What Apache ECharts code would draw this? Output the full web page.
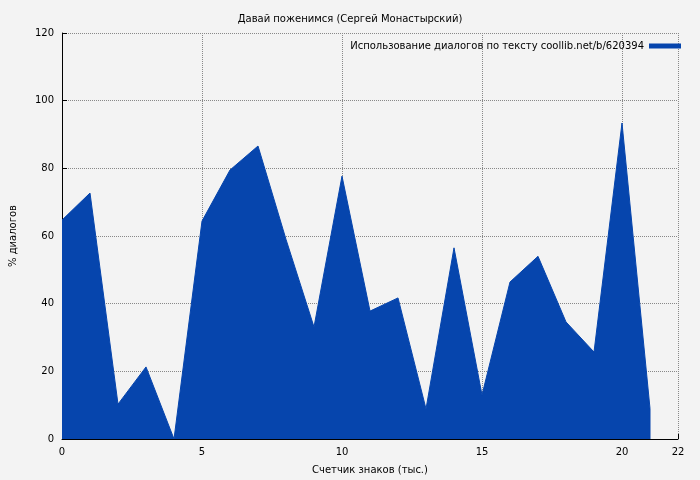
<!DOCTYPE html>
<html>
<head>
<meta charset="utf-8">
<script src="https://cdn.jsdelivr.net/npm/echarts@6/dist/echarts.min.js"></script>
<style>html,body{margin:0;padding:0;background:#f3f3f3;}#chart{width:700px;height:480px;}</style>
</head>
<body>
<div id="chart"></div>
<script>
var xs = [0,1,2,3,4,5,6,7,8,9,10,11,12,13,14,15,16,17,18,19,20,21];
var vals = [64.7,72.7,10.3,21.3,0,64.4,79.5,86.6,59,33.1,77.7,37.8,41.7,8.9,56.5,13,46.4,54,34.6,25.7,93.4,9];
var seriesName = 'Использование диалогов по тексту coollib.net/b/620394';

var data = xs.map(function(x, i){ return [x, vals[i]]; });
data.push([21, 0]);

var myChart = echarts.init(document.getElementById('chart'));
var font = 'DejaVu Sans';
var option = {
    backgroundColor: '#f3f3f3',
    animation: false,
    title: {
        text: 'Давай поженимся (Сергей Монастырский)',
        left: 'center', top: 9,
        textStyle: {fontFamily: font, fontSize: 10, fontWeight: 'normal', color: '#000'}
    },
    legend: {
        right: 14, top: 36,
        data: [seriesName],
        itemWidth: 32, itemHeight: 5,
        icon: 'rect',
        align: 'right',
        textStyle: {fontFamily: font, fontSize: 10, color: '#000'}
    },
    grid: {left: 60, right: 22, top: 33, bottom: 41},
    xAxis: {
        type: 'value', min: 0, max: 22, interval: 5,
        name: 'Счетчик знаков (тыс.)', nameLocation: 'middle', nameGap: 26,
        nameTextStyle: {fontFamily: font, fontSize: 10, color: '#000'},
        axisLine: {lineStyle: {color: '#000'}},
        axisTick: {inside: true, lineStyle: {color: '#000'}},
        axisLabel: {fontFamily: font, fontSize: 10, color: '#000'},
        splitLine: {show: true, lineStyle: {color: '#888', type: 'dotted'}}
    },
    yAxis: {
        type: 'value', min: 0, max: 120, interval: 20,
        name: '% диалогов', nameLocation: 'middle', nameGap: 44,
        nameTextStyle: {fontFamily: font, fontSize: 10, color: '#000'},
        axisLine: {show: true, lineStyle: {color: '#000'}},
        axisTick: {show: true, inside: true, lineStyle: {color: '#000'}},
        axisLabel: {fontFamily: font, fontSize: 10, color: '#000'},
        splitLine: {show: true, lineStyle: {color: '#888', type: 'dotted'}}
    },
    series: [{
        name: seriesName,
        type: 'line',
        data: data,
        symbol: 'none',
        itemStyle: {color: '#0645ad'},
        lineStyle: {width: 1, color: '#0645ad'},
        areaStyle: {color: '#0645ad', opacity: 1}
    }]
};
myChart.setOption(option);
</script>
</body>
</html>
